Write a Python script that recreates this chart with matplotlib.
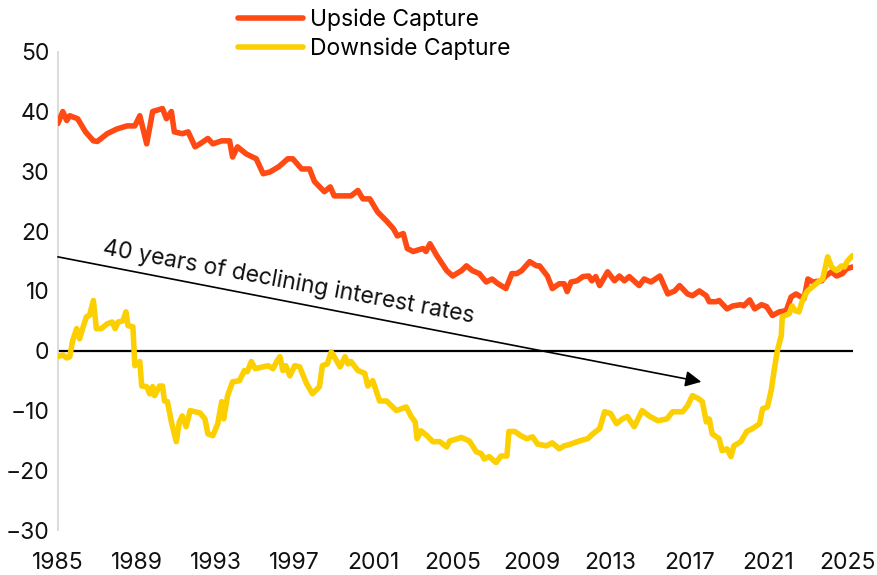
# coding=utf-8

import numpy as np
import matplotlib
matplotlib.use('Agg')
import matplotlib.pyplot as plt


# upside capture (year, value)
up_years = [1985.0, 1985.25, 1985.45, 1985.6, 1986.0, 1986.4, 1986.8, 1987.0, 1987.5, 1988.0,
            1988.5, 1988.9, 1989.15, 1989.5, 1989.8, 1990.3, 1990.5, 1990.75, 1990.9, 1991.3,
            1991.6, 1991.95, 1992.2, 1992.6, 1992.85, 1993.3, 1993.7, 1993.85, 1994.1, 1994.55,
            1995.05, 1995.4, 1995.75, 1996.2, 1996.65, 1996.9, 1997.35, 1997.75, 1998.0, 1998.5,
            1998.8, 1999.0, 1999.6, 1999.85, 2000.2, 2000.45, 2000.8, 2001.2, 2001.65, 2002.0,
            2002.2, 2002.5, 2002.7, 2003.0, 2003.5, 2003.65, 2003.85, 2004.2, 2004.7, 2005.0,
            2005.45, 2005.7, 2006.0, 2006.35, 2006.7, 2007.0, 2007.3, 2007.7, 2008.0, 2008.25,
            2008.5, 2008.9, 2009.25, 2009.4, 2009.8, 2010.05, 2010.4, 2010.65, 2010.8, 2011.0,
            2011.3, 2011.6, 2011.9, 2012.05, 2012.25, 2012.45, 2012.85, 2013.2, 2013.45, 2013.7,
            2013.95, 2014.45, 2014.7, 2015.05, 2015.5, 2015.9, 2016.25, 2016.5, 2016.9, 2017.15,
            2017.5, 2017.85, 2018.0, 2018.35, 2018.5, 2018.9, 2019.2, 2019.6, 2019.75, 2020.05,
            2020.3, 2020.65, 2020.9, 2021.2, 2021.55, 2021.9, 2022.15, 2022.4, 2022.65, 2022.8,
            2023.0, 2023.25, 2023.7, 2023.9, 2024.2, 2024.45, 2024.75, 2024.95, 2025.25]
up_vals = [38.0, 40.0, 38.5, 39.3, 38.8, 36.6, 35.1, 35.0, 36.3, 37.1,
           37.6, 37.6, 39.3, 34.6, 40.0, 40.5, 38.8, 40.0, 36.6, 36.3,
           36.6, 34.1, 34.6, 35.5, 34.6, 35.1, 35.1, 32.4, 34.1, 32.9,
           32.1, 29.6, 29.9, 30.8, 32.1, 32.1, 30.4, 30.4, 28.3, 26.6,
           27.4, 25.9, 25.9, 25.9, 26.8, 25.4, 25.4, 23.2, 21.7, 20.4,
           19.2, 19.6, 17.1, 16.6, 17.1, 16.6, 17.9, 15.9, 13.4, 12.5,
           13.4, 14.2, 13.4, 12.9, 11.5, 12.0, 11.2, 10.4, 12.9, 12.9,
           13.4, 14.9, 14.2, 14.2, 12.5, 10.4, 11.2, 11.2, 9.9, 11.5,
           11.7, 12.4, 12.5, 11.7, 12.4, 10.9, 13.2, 11.7, 12.5, 11.7,
           12.4, 10.9, 12.0, 11.5, 12.5, 9.5, 10.0, 10.9, 9.5, 9.2,
           10.0, 9.2, 8.2, 8.2, 8.4, 7.0, 7.5, 7.7, 7.5, 8.5,
           7.0, 7.7, 7.4, 5.9, 6.5, 6.7, 9.0, 9.5, 9.0, 8.7,
           12.0, 11.5, 11.7, 12.5, 13.2, 12.5, 12.9, 13.7, 14.0]

# downside capture
down_years = [1985.0, 1985.25, 1985.45, 1985.6, 1985.75, 1985.95, 1986.1, 1986.25, 1986.45, 1986.6,
              1986.8, 1986.95, 1987.2, 1987.5, 1987.75, 1987.9, 1988.05, 1988.3, 1988.45, 1988.55,
              1988.8, 1988.9, 1989.15, 1989.25, 1989.5, 1989.65, 1989.8, 1989.9, 1990.15, 1990.3,
              1990.4, 1990.55, 1990.75, 1991.0, 1991.15, 1991.3, 1991.5, 1991.7, 1992.2, 1992.45,
              1992.6, 1992.85, 1993.1, 1993.3, 1993.4, 1993.6, 1993.85, 1994.2, 1994.45, 1994.6,
              1994.8, 1995.0, 1995.4, 1995.65, 1995.9, 1996.1, 1996.25, 1996.4, 1996.55, 1996.75,
              1997.0, 1997.25, 1997.6, 1997.9, 1998.25, 1998.4, 1998.65, 1998.85, 1999.0, 1999.3,
              1999.55, 1999.7, 1999.85, 2000.2, 2000.55, 2000.7, 2000.95, 2001.3, 2001.65, 2001.9,
              2002.15, 2002.65, 2002.9, 2003.1, 2003.2, 2003.4, 2003.7, 2004.0, 2004.35, 2004.7,
              2004.85, 2005.45, 2005.85, 2006.2, 2006.45, 2006.6, 2006.85, 2007.2, 2007.45, 2007.75,
              2007.85, 2008.15, 2008.45, 2008.75, 2009.05, 2009.3, 2009.75, 2010.05, 2010.4, 2010.65,
              2010.9, 2011.4, 2011.85, 2012.1, 2012.45, 2012.7, 2013.0, 2013.3, 2013.6, 2013.85,
              2014.2, 2014.6, 2014.95, 2015.4, 2015.85, 2016.15, 2016.65, 2016.9, 2017.15, 2017.45,
              2017.65, 2017.85, 2018.0, 2018.15, 2018.5, 2018.65, 2018.9, 2019.1, 2019.25, 2019.6,
              2019.9, 2020.2, 2020.55, 2020.7, 2020.95, 2021.15, 2021.3, 2021.45, 2021.65, 2021.7,
              2022.05, 2022.2, 2022.35, 2022.55, 2022.7, 2022.95, 2023.3, 2023.6, 2023.75, 2024.0,
              2024.2, 2024.45, 2024.7, 2024.85, 2025.0, 2025.25]
down_vals = [-1.0, -0.7, -1.2, -1.0, 1.7, 3.7, 2.0, 3.7, 5.7, 5.9,
             8.4, 3.7, 3.7, 4.5, 4.8, 3.7, 4.8, 5.0, 6.5, 4.2,
             4.0, -2.5, -1.8, -5.9, -6.0, -7.2, -6.0, -7.5, -5.9, -5.9,
             -8.4, -8.5, -11.9, -15.2, -11.9, -10.9, -12.7, -10.0, -10.4, -11.4,
             -13.9, -14.2, -12.2, -8.5, -11.4, -7.5, -5.2, -5.0, -3.3, -3.5,
             -1.8, -3.0, -2.7, -2.5, -3.0, -1.7, -1.0, -3.3, -2.5, -4.2,
             -2.5, -2.7, -5.5, -7.2, -6.0, -2.5, -2.2, -0.2, -1.0, -2.7,
             -1.0, -2.2, -1.8, -3.3, -3.8, -5.9, -5.0, -8.4, -8.4, -9.2,
             -10.0, -9.4, -11.0, -11.9, -14.7, -13.4, -14.2, -15.2, -15.2, -16.1,
             -15.1, -14.5, -15.1, -16.9, -17.2, -18.1, -17.7, -18.7, -17.6, -17.6,
             -13.5, -13.5, -14.2, -14.7, -14.4, -15.6, -15.9, -15.4, -16.4, -15.9,
             -15.7, -15.1, -14.7, -13.9, -13.0, -10.2, -10.5, -12.2, -11.4, -11.0,
             -12.7, -10.0, -10.9, -11.7, -11.4, -10.2, -10.2, -9.2, -7.5, -8.0,
             -8.5, -11.9, -11.4, -13.9, -14.7, -16.7, -16.4, -17.7, -15.9, -15.2,
             -13.5, -13.0, -12.2, -9.7, -9.4, -6.4, -3.0, 0.0, 2.5, 5.7,
             6.2, 7.5, 6.7, 6.5, 8.2, 9.9, 10.9, 11.7, 12.0, 15.7,
             14.0, 13.4, 14.2, 14.0, 15.0, 15.9]

x_ticks = [1985, 1989, 1993, 1997, 2001, 2005, 2009, 2013, 2017, 2021, 2025]
y_ticks = [-30, -20, -10, 0, 10, 20, 30, 40, 50]

ORANGE = '#FF4A14'
YELLOW = '#FCCF00'
FS = 16.5

plt.rcParams['font.family'] = ['Inter', 'DejaVu Sans']

fig = plt.figure(figsize=(8.77, 5.75), dpi=100)
ax = fig.add_axes([0.066, 0.078, 0.907, 0.832])

ax.plot(up_years, up_vals, color=ORANGE, lw=4.0, solid_joinstyle='round',
        solid_capstyle='round', label='Upside Capture', zorder=3)
ax.plot(down_years, down_vals, color=YELLOW, lw=4.0, solid_joinstyle='round',
        solid_capstyle='round', label='Downside Capture', zorder=4)

ax.axhline(0, color='black', lw=1.6, zorder=2)

# arrow + label
ax.annotate('', xy=(2017.6, -5.2), xytext=(1985.0, 15.7),
            arrowprops=dict(arrowstyle='-|>', color='black', lw=1.2,
                            mutation_scale=24, shrinkA=0, shrinkB=0))
ax.text(1996.7, 11.4, '40 years of declining interest rates', rotation=-10.5,
        rotation_mode='anchor', ha='center', va='center', fontsize=FS, color='#111111')

ax.set_xlim(1985, 2025.3)
ax.set_ylim(-30, 50)
ax.set_xticks(x_ticks)
ax.set_yticks(y_ticks)
ax.tick_params(axis='both', length=0, labelsize=FS, colors='#111111')
ax.tick_params(axis='x', pad=16)
ax.tick_params(axis='y', pad=6)

for side in ['top', 'right', 'bottom']:
    ax.spines[side].set_visible(False)
ax.spines['left'].set_color('#D9D9D9')
ax.spines['left'].set_linewidth(1.3)

fig.legend(loc='upper left', bbox_to_anchor=(238 / 877, 0.985), frameon=False, fontsize=FS,
           handlelength=2.85, handletextpad=0.3, labelspacing=0.28, borderpad=0,
           borderaxespad=0)

fig.savefig('out.png', dpi=100)
